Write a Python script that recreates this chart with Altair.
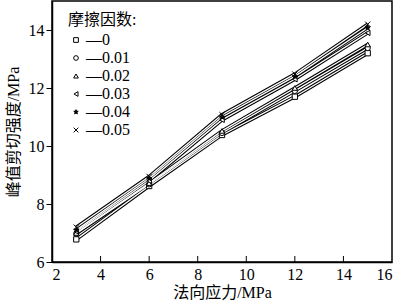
import altair as alt
import pandas as pd

x_vals = [3, 6, 9, 12, 15]
series = ["0", "0.01", "0.02", "0.03", "0.04", "0.05"]
y_0 = [6.78, 8.62, 10.38, 11.70, 13.20]
y_001 = [6.98, 8.68, 10.45, 11.90, 13.38]
y_002 = [7.00, 8.72, 10.52, 12.00, 13.50]
y_003 = [7.05, 8.80, 10.90, 12.30, 13.90]
y_004 = [7.10, 8.88, 11.00, 12.40, 14.08]
y_005 = [7.20, 8.95, 11.08, 12.48, 14.20]
x_ticks = [4, 6, 8, 10, 12, 14]

rows = []
for name, ys in zip(series, [y_0, y_001, y_002, y_003, y_004, y_005]):
    for xv, yv in zip(x_vals, ys):
        rows.append({"x": xv, "y": yv, "s": name})
df = pd.DataFrame(rows)

FONT = "Liberation Serif, Noto Sans CJK SC"
star = ("M0,-1L0.235,-0.324L0.951,-0.309L0.380,0.124L0.588,0.809L0,0.4"
        "L-0.588,0.809L-0.380,0.124L-0.951,-0.309L-0.235,-0.324Z")
xmark = "M-1,-1L1,1M-1,1L1,-1"
shapes = ["square", "circle", "triangle-up", "triangle-left", star, xmark]
fills = ["white", "white", "white", "white", "black", "white"]
strokes = ["black"] * 6

xs = alt.X("x:Q", scale=alt.Scale(domain=[2, 16], nice=False),
           axis=alt.Axis(values=list(range(2, 17, 2)), ticks=False,
                         title="法向应力/MPa", labelPadding=4, titlePadding=2))
ys = alt.Y("y:Q", scale=alt.Scale(domain=[6, 15], nice=False),
           axis=alt.Axis(values=[6, 8, 10, 12, 14], tickSize=6,
                         title="峰值剪切强度/MPa", titlePadding=7))

leg = alt.Legend(title="摩擦因数:", orient="none", legendX=16, legendY=11,
                 labelExpr="'—' + datum.label",
                 symbolStrokeWidth=1, symbolSize=22)

base = alt.Chart(df)
casing = base.mark_line(color="black", strokeWidth=3.4).encode(
    x=xs, y=ys, detail="s:N")
inner = base.mark_line(color="white", strokeWidth=1.3).encode(
    x=xs, y=ys, detail="s:N")
pts = base.mark_point(strokeWidth=1, size=28, opacity=1, filled=False).encode(
    x=xs, y=ys,
    shape=alt.Shape("s:N", scale=alt.Scale(domain=series, range=shapes), legend=leg),
    fill=alt.Fill("s:N", scale=alt.Scale(domain=series, range=fills), legend=leg),
    stroke=alt.Stroke("s:N", scale=alt.Scale(domain=series, range=strokes), legend=leg),
)
tick_df = pd.DataFrame({"t": x_ticks})
ticks = alt.Chart(tick_df).mark_rule(color="black", strokeWidth=1).encode(
    x=alt.X("t:Q", scale=alt.Scale(domain=[2, 16], nice=False)),
    y=alt.value(261), y2=alt.value(255))

chart = alt.layer(casing, inner, ticks, pts).properties(
    width=340, height=261,
    padding={"left": 52, "top": 1, "right": 7, "bottom": 44},
    autosize=alt.AutoSizeParams(type="none"),
    background="white",
).configure_view(stroke="black", strokeWidth=1.5).configure_axis(
    domainColor="black", domainWidth=1.5, tickColor="black", tickWidth=1,
    labelFont=FONT, labelFontSize=16, labelColor="black",
    titleFont=FONT, titleFontSize=16, titleFontWeight="normal", titleColor="black",
    grid=False,
).configure_legend(
    titleFont=FONT, titleFontSize=16, titleFontWeight="normal", titleColor="black",
    labelFont=FONT, labelFontSize=16, labelColor="black",
    rowPadding=2, labelOffset=2, titlePadding=4,
)

chart.save("out.html", embed_options={"renderer": "svg", "actions": False})
